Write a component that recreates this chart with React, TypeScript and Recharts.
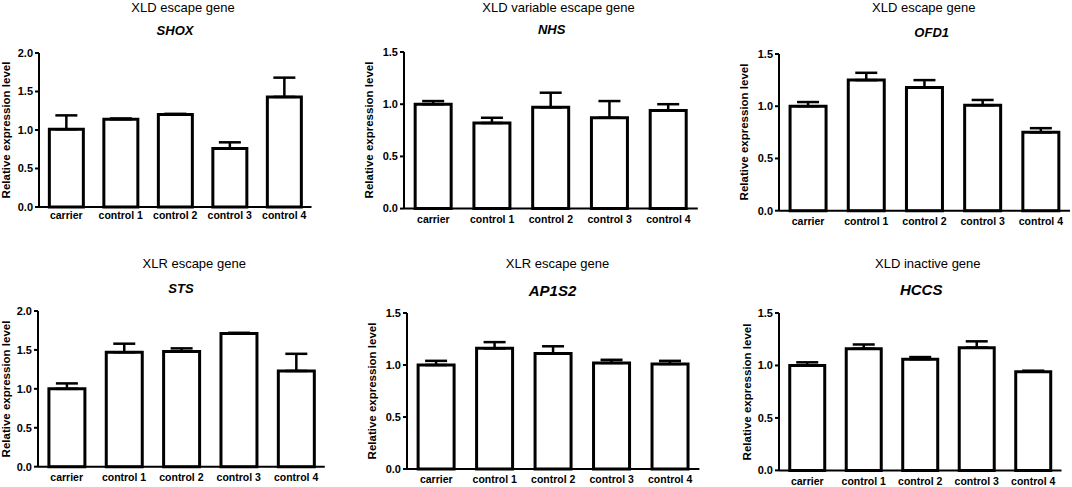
import { BarChart, Bar, XAxis, YAxis, ErrorBar } from "recharts";

const categories = ["carrier", "control 1", "control 2", "control 3", "control 4"];

// means and upper SEM
const shoxMeans = [1.01, 1.14, 1.2, 0.76, 1.43];
const shoxSem = [0.18, 0.01, 0.01, 0.08, 0.25];

const nhsMeans = [1.0, 0.82, 0.97, 0.87, 0.94];
const nhsSem = [0.03, 0.05, 0.14, 0.16, 0.06];

const ofd1Means = [1.0, 1.25, 1.18, 1.01, 0.75];
const ofd1Sem = [0.04, 0.07, 0.07, 0.05, 0.04];

const stsMeans = [1.0, 1.47, 1.48, 1.71, 1.23];
const stsSem = [0.07, 0.11, 0.04, 0.01, 0.22];

const ap1s2Means = [1.0, 1.16, 1.11, 1.02, 1.01];
const ap1s2Sem = [0.04, 0.06, 0.07, 0.03, 0.03];

const hccsMeans = [1.0, 1.16, 1.06, 1.17, 0.94];
const hccsSem = [0.03, 0.04, 0.02, 0.06, 0.01];

const ticksTo2 = [0, 0.5, 1, 1.5, 2];
const ticksTo15 = [0, 0.5, 1, 1.5];

const FONT = "'Liberation Sans', Arial, sans-serif";
const Y_LABEL = "Relative expression level";

// plot = [left, right, top, bottom] of the plotting area in page pixels
const panels = [
  { group: "XLD escape gene", gene: "SHOX", means: shoxMeans, sem: shoxSem, yMax: 2, ticks: ticksTo2,
    plot: [39, 311.5, 52.7, 206.7], title: [183, 6.7], geneAt: [175, 30.2], geneSize: 13, labelX: 7.3, catGap: 5 },
  { group: "XLD variable escape gene", gene: "NHS", means: nhsMeans, sem: nhsSem, yMax: 1.5, ticks: ticksTo15,
    plot: [404, 697.8, 51.7, 208.3], title: [558.5, 6.7], geneAt: [551.7, 28.7], geneSize: 13, labelX: 370, catGap: 7 },
  { group: "XLD escape gene", gene: "OFD1", means: ofd1Means, sem: ofd1Sem, yMax: 1.5, ticks: ticksTo15,
    plot: [778.5, 1069.5, 54, 210.7], title: [923.7, 6.5], geneAt: [931.7, 31.7], geneSize: 13, labelX: 745.3, catGap: 7 },
  { group: "XLR escape gene", gene: "STS", means: stsMeans, sem: stsSem, yMax: 2, ticks: ticksTo2,
    plot: [38, 324.8, 311, 466.7], title: [194.2, 262.7], geneAt: [181, 288.3], geneSize: 13, labelX: 6.7, catGap: 7 },
  { group: "XLR escape gene", gene: "AP1S2", means: ap1s2Means, sem: ap1s2Sem, yMax: 1.5, ticks: ticksTo15,
    plot: [406.6, 699, 313.3, 469.3], title: [557.5, 262.7], geneAt: [552.5, 290], geneSize: 15, labelX: 373.3, catGap: 7 },
  { group: "XLD inactive gene", gene: "HCCS", means: hccsMeans, sem: hccsSem, yMax: 1.5, ticks: ticksTo15,
    plot: [779, 1061.5, 313.3, 470.7], title: [927.8, 262.7], geneAt: [921.2, 289.3], geneSize: 15, labelX: 748, catGap: 7 },
];

const centered = (x: number, y: number): React.CSSProperties => ({
  position: "absolute",
  left: x,
  top: y,
  transform: "translate(-50%, -50%)",
  whiteSpace: "nowrap",
  lineHeight: 1,
  fontFamily: FONT,
  color: "#000",
});

function Panel({ p }: { p: (typeof panels)[number] }) {
  const [x0, x1, yTop, yBot] = p.plot;
  const padL = 40;
  const padR = 10;
  const padT = 10;
  const padB = 24;
  const rows = categories.map((name, i) => ({
    name,
    value: p.means[i],
    err: [0, p.sem[i]],
  }));

  return (
    <>
      <div style={{ ...centered(p.title[0], p.title[1]), fontSize: 13 }}>{p.group}</div>
      <div
        style={{
          ...centered(p.geneAt[0], p.geneAt[1]),
          fontSize: p.geneSize,
          fontWeight: 700,
          fontStyle: "italic",
        }}
      >
        {p.gene}
      </div>
      <div
        style={{
          ...centered(p.labelX, (yTop + yBot) / 2),
          transform: "translate(-50%, -50%) rotate(-90deg)",
          fontSize: 11.5,
          fontWeight: 700,
        }}
      >
        {Y_LABEL}
      </div>
      <div style={{ position: "absolute", left: x0 - padL, top: yTop - padT }}>
        <BarChart
          width={x1 - x0 + padL + padR}
          height={yBot - yTop + padT + padB}
          data={rows}
          margin={{ top: padT, right: padR, left: 0, bottom: 0 }}
          barCategoryGap="19%"
        >
          <XAxis
            dataKey="name"
            height={padB}
            interval={0}
            tickLine={false}
            tickSize={0}
            tickMargin={p.catGap}
            axisLine={{ stroke: "#000", strokeWidth: 2 }}
            tick={{ fill: "#000", fontSize: 10.5, fontWeight: 700, fontFamily: FONT }}
          />
          <YAxis
            width={padL}
            type="number"
            domain={[0, p.yMax]}
            ticks={p.ticks}
            tickFormatter={(v: number) => v.toFixed(1)}
            tickSize={4}
            tickMargin={2}
            axisLine={{ stroke: "#000", strokeWidth: 2 }}
            tickLine={{ stroke: "#000", strokeWidth: 2 }}
            tick={{ fill: "#000", fontSize: 11, fontWeight: 700, fontFamily: FONT }}
          />
          <Bar dataKey="value" fill="#fff" stroke="#000" strokeWidth={3} isAnimationActive={false}>
            <ErrorBar dataKey="err" width={11} stroke="#000" strokeWidth={2.5} isAnimationActive={false} />
          </Bar>
        </BarChart>
      </div>
    </>
  );
}

export default function App() {
  return (
    <div
      style={{
        position: "absolute",
        left: 0,
        top: 0,
        width: 1072,
        height: 487,
        background: "#fff",
        overflow: "hidden",
      }}
    >
      {panels.map((p) => (
        <Panel key={p.gene} p={p} />
      ))}
    </div>
  );
}
